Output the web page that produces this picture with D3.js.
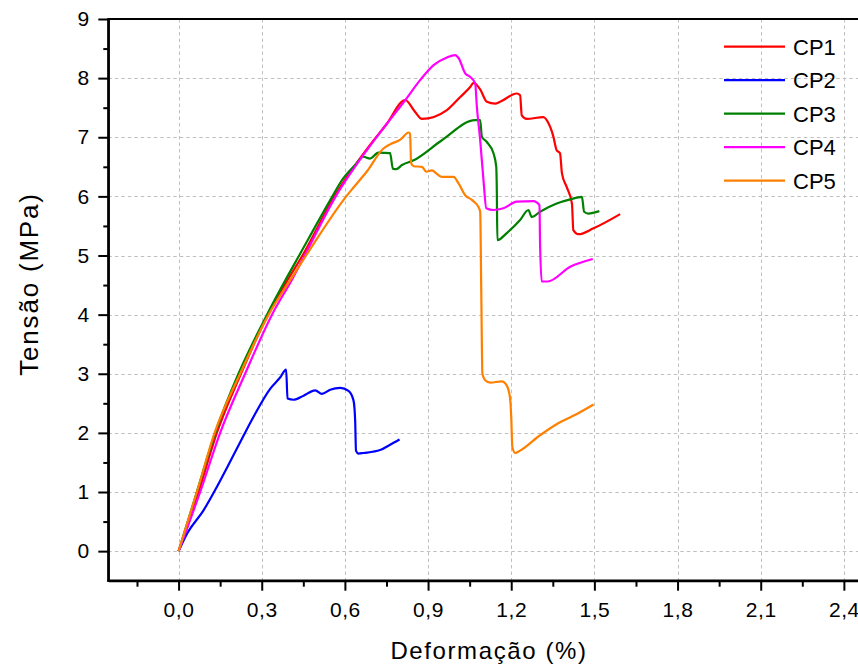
<!DOCTYPE html>
<html>
<head>
<meta charset="utf-8">
<script src="https://cdn.jsdelivr.net/npm/d3@7"></script>
<style>
  html, body { margin: 0; padding: 0; background: #fff; }
  svg { display: block; font-family: "Liberation Sans", Arial, sans-serif; }
</style>
</head>
<body>
<svg id="chart" width="858" height="666"></svg>
<script>
// ---- data ----
const seriesNames = ["CP1", "CP2", "CP3", "CP4", "CP5"];
const seriesColors = ["#ff0000", "#0000ff", "#008000", "#ff00ff", "#ff8000"];

const cp1 = [[0,0],[0.02,0.25],[0.072,1],[0.138,2],[0.225,3],[0.322,4],[0.395,4.6],[0.447,5],[0.562,6],[0.679,6.8],[0.75,7.22],[0.818,7.63],[0.85,7.45],[0.878,7.31],[0.968,7.46],[1.016,7.68],[1.052,7.85],[1.064,7.92],[1.088,7.81],[1.112,7.60],[1.142,7.57],[1.16,7.6],[1.22,7.74],[1.232,7.71],[1.238,7.37],[1.256,7.31],[1.316,7.34],[1.334,7.24],[1.347,7.09],[1.352,7.01],[1.364,6.78],[1.376,6.73],[1.383,6.39],[1.4,6.16],[1.419,5.88],[1.424,5.43],[1.443,5.36],[1.497,5.46],[1.593,5.70]];

const cp2 = [[0,0],[0.03,0.29],[0.09,0.69],[0.15,1.19],[0.21,1.73],[0.27,2.27],[0.331,2.75],[0.367,2.94],[0.388,3.07],[0.393,2.58],[0.415,2.56],[0.451,2.63],[0.493,2.72],[0.517,2.66],[0.547,2.73],[0.583,2.76],[0.613,2.71],[0.631,2.55],[0.637,2.21],[0.64,1.70],[0.649,1.65],[0.667,1.66],[0.727,1.71],[0.763,1.80],[0.797,1.89]];

const cp3 = [[0,0],[0.066,1],[0.132,2],[0.216,3],[0.319,4],[0.385,4.58],[0.435,5],[0.555,6],[0.589,6.27],[0.637,6.53],[0.667,6.67],[0.691,6.64],[0.721,6.74],[0.763,6.73],[0.773,6.47],[0.785,6.46],[0.806,6.53],[0.848,6.61],[0.95,6.95],[1.07,7.29],[1.088,7.29],[1.094,7.01],[1.112,6.92],[1.136,6.73],[1.146,6.50],[1.148,6.10],[1.150,5.26],[1.184,5.38],[1.232,5.60],[1.262,5.77],[1.274,5.65],[1.304,5.74],[1.364,5.88],[1.413,5.95],[1.455,5.99],[1.463,5.74],[1.478,5.71],[1.518,5.75]];

const cp4 = [[0,0],[0.078,1],[0.150,2],[0.24,3],[0.337,4],[0.41,4.6],[0.455,5],[0.567,6],[0.679,6.78],[0.75,7.22],[0.818,7.63],[0.872,7.97],[0.92,8.22],[0.968,8.35],[0.998,8.39],[1.01,8.34],[1.034,8.08],[1.052,8.02],[1.07,7.91],[1.076,7.52],[1.088,6.95],[1.1,6.27],[1.11,5.80],[1.136,5.77],[1.172,5.80],[1.22,5.91],[1.28,5.92],[1.302,5.85],[1.304,5.2],[1.31,4.56],[1.331,4.56],[1.413,4.81],[1.494,4.94]];

const cp5 = [[0,0],[0.066,1],[0.13,2],[0.222,3],[0.325,4],[0.405,4.6],[0.46,5],[0.605,6],[0.631,6.15],[0.679,6.42],[0.739,6.81],[0.763,6.88],[0.80,6.96],[0.83,7.08],[0.835,7.06],[0.839,6.56],[0.848,6.51],[0.878,6.50],[0.893,6.42],[0.914,6.44],[0.932,6.38],[0.95,6.33],[0.992,6.33],[1.01,6.22],[1.034,6.02],[1.058,5.94],[1.082,5.82],[1.088,5.74],[1.092,4.36],[1.096,3.0],[1.106,2.89],[1.124,2.85],[1.166,2.87],[1.184,2.80],[1.196,2.58],[1.20,2.27],[1.204,1.76],[1.214,1.66],[1.232,1.70],[1.304,1.96],[1.376,2.18],[1.437,2.32],[1.497,2.48]];

const allSeries = [cp1, cp2, cp3, cp4, cp5];

const xTicks = [0, 0.3, 0.6, 0.9, 1.2, 1.5, 1.8, 2.1, 2.4];
const xMinorTicks = [-0.15, 0.15, 0.45, 0.75, 1.05, 1.35, 1.65, 1.95, 2.25];
const yTicks = [0, 1, 2, 3, 4, 5, 6, 7, 8, 9];
const yMinorTicks = [0.5, 1.5, 2.5, 3.5, 4.5, 5.5, 6.5, 7.5, 8.5];

const xTitle = "Deformação (%)";
const yTitle = "Tensão (MPa)";

// ---- layout ----
const svg = d3.select("#chart");
const W = 858, H = 666;
const pLeft = 108.3, pTop = 19, pBottom = 580.7, pRight = 871.6;

const x = d3.scaleLinear().domain([-0.2535, 2.5]).range([pLeft, pRight]);
const y = d3.scaleLinear().domain([-0.5, 9]).range([pBottom, pTop]);

svg.append("rect").attr("width", W).attr("height", H).attr("fill", "#fff");

// grid
const grid = svg.append("g").attr("stroke", "#c0c0c0").attr("stroke-width", 1).attr("stroke-dasharray", "3.5,3");
grid.selectAll("line.v").data(xTicks).join("line").attr("class", "v")
  .attr("x1", d => Math.round(x(d)) + 0.5).attr("x2", d => Math.round(x(d)) + 0.5)
  .attr("y1", pTop).attr("y2", pBottom);
grid.selectAll("line.h").data(yTicks.filter(d => d < 9)).join("line").attr("class", "h")
  .attr("y1", d => Math.round(y(d)) + 0.5).attr("y2", d => Math.round(y(d)) + 0.5)
  .attr("x1", pLeft).attr("x2", W);

// series
const line = d3.line().x(d => x(d[0])).y(d => y(d[1])).curve(d3.curveMonotoneX);
svg.append("clipPath").attr("id", "clip").append("rect")
  .attr("x", pLeft).attr("y", pTop).attr("width", pRight - pLeft).attr("height", pBottom - pTop);
svg.append("g").attr("clip-path", "url(#clip)")
  .selectAll("path").data(allSeries).join("path")
  .attr("d", line)
  .attr("fill", "none")
  .attr("stroke", (d, i) => seriesColors[i])
  .attr("stroke-width", 2.2)
  .attr("stroke-linejoin", "round");

// axes
const fmt = d => d3.format(".1f")(d).replace(".", ",");
const xAxis = svg.append("g").attr("transform", `translate(0,${pBottom})`)
  .call(d3.axisBottom(x).tickValues(xTicks).tickFormat(fmt).tickSize(10).tickPadding(11).tickSizeOuter(0));
const xMinor = svg.append("g").attr("transform", `translate(0,${pBottom})`)
  .call(d3.axisBottom(x).tickValues(xMinorTicks).tickFormat("").tickSize(6).tickSizeOuter(0));
const yAxis = svg.append("g").attr("transform", `translate(${pLeft},0)`)
  .call(d3.axisLeft(y).tickValues(yTicks).tickFormat(d3.format("d")).tickSize(10).tickPadding(9).tickSizeOuter(0));
const yMinor = svg.append("g").attr("transform", `translate(${pLeft},0)`)
  .call(d3.axisLeft(y).tickValues(yMinorTicks).tickFormat("").tickSize(5).tickSizeOuter(0));

[xAxis, xMinor, yAxis, yMinor].forEach(g => {
  g.select(".domain").attr("stroke", "#000").attr("stroke-width", 2.2);
  g.selectAll(".tick line").attr("stroke", "#000").attr("stroke-width", 2);
  g.selectAll(".tick text").attr("fill", "#000").attr("font-size", 21)
    .attr("font-family", "'Liberation Sans', Arial, sans-serif");
});
xAxis.selectAll(".tick text").attr("letter-spacing", 0.6);
xAxis.select(".domain").attr("d", `M${pLeft - 1},0H${W}`);
yAxis.select(".domain").attr("d", `M0,${pTop}V${pBottom + 1}`);

// top frame
svg.append("line").attr("x1", pLeft - 1).attr("x2", W).attr("y1", pTop).attr("y2", pTop)
  .attr("stroke", "#000").attr("stroke-width", 2.2);

// titles
svg.append("text").attr("x", 489).attr("y", 659).attr("text-anchor", "middle")
  .attr("font-size", 24).attr("letter-spacing", 1.6).attr("fill", "#000").text(xTitle);
svg.append("text").attr("transform", "translate(38,284) rotate(-90)").attr("text-anchor", "middle")
  .attr("font-size", 26).attr("letter-spacing", 1.8).attr("fill", "#000").text(yTitle);

// legend
const legend = svg.append("g");
const lgY0 = 46.7, lgDy = 33.5;
seriesNames.forEach((name, i) => {
  const yy = lgY0 + i * lgDy;
  legend.append("line").attr("x1", 724).attr("x2", 785).attr("y1", yy).attr("y2", yy)
    .attr("stroke", seriesColors[i]).attr("stroke-width", 2.2);
  legend.append("text").attr("x", 793).attr("y", yy + 8).attr("font-size", 22)
    .attr("fill", "#000").text(name);
});
</script>
</body>
</html>
